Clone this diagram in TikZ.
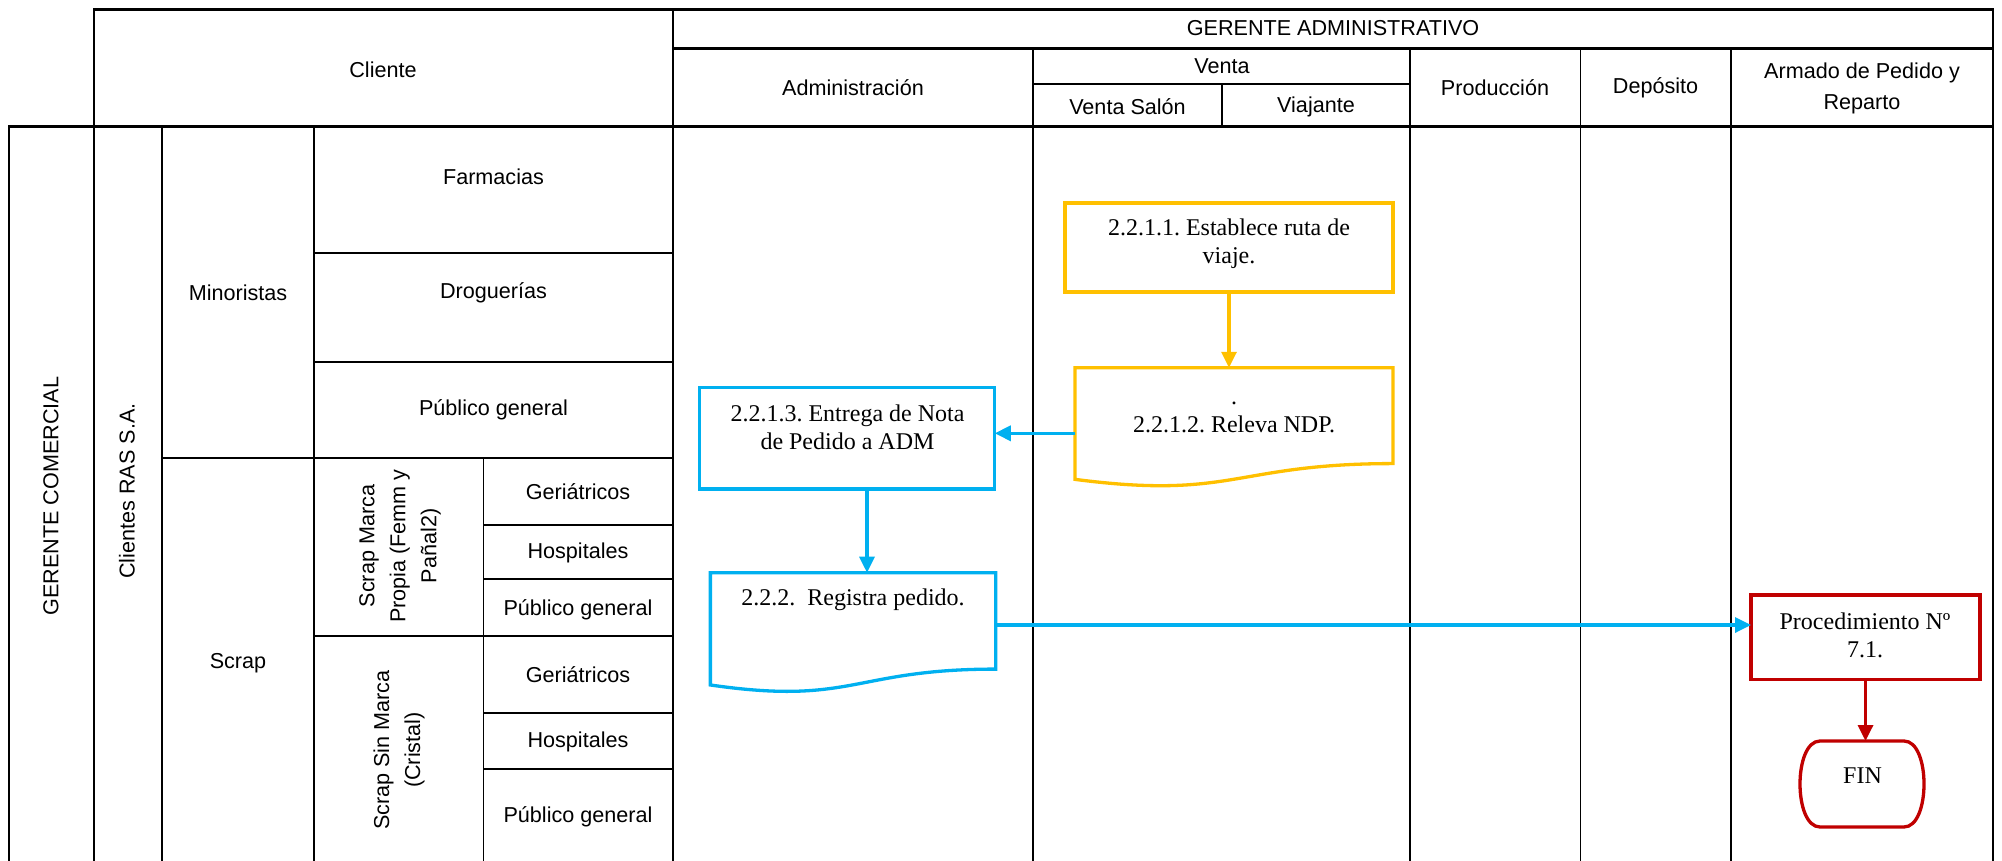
\documentclass[tikz,border=0pt]{standalone}
\usepackage{fontspec}
\setmainfont{Liberation Serif}
\setsansfont{Liberation Sans}
\usetikzlibrary{arrows.meta,calc}
\definecolor{ycol}{HTML}{FFC000}
\definecolor{bcol}{HTML}{00B0F0}
\definecolor{rcol}{HTML}{C00000}
\frenchspacing
\begin{document}
\begin{tikzpicture}[x=1pt,y=-1pt,
  thickln/.style={line width=2.7pt,line cap=rect},
  medln/.style={line width=2.1pt,line cap=rect},
  thinln/.style={line width=1.8pt,line cap=rect},
  lab/.style={font=\sffamily\fontsize{21.6}{31}\selectfont,align=center,inner sep=0pt},
  rlab/.style={lab,rotate=90},
  ftxt/.style={font=\rmfamily\fontsize{24}{28}\selectfont,align=center,inner sep=0pt},
  shp/.style={inner sep=0pt,outer sep=0pt,draw=none},
  rbox/.style={shp,draw,line width=3.3pt},
  flow/.style={line width=3.3pt,-{Triangle[length=16pt,width=15pt]}},
  outl/.style={line width=3.3pt,line join=miter}
]
\useasboundingbox (0,0) rectangle (2002,861);
\fill[white] (0,0) rectangle (2002,861);

% ---- grid ----
\draw[thickln] (94,9.3) -- (1993,9.3);
\draw[thickln] (673,48.3) -- (1993,48.3);
\draw[thickln] (9,126.7) -- (1993,126.7);
\draw[thickln] (9,126.7) -- (9,861);
\draw[thickln] (94,9.3) -- (94,861);
\draw[thickln] (162,126.7) -- (162,861);
\draw[thickln] (673,9.3) -- (673,861);
\draw[thickln] (1993,9.3) -- (1993,861);

\draw[thinln] (314,126.7) -- (314,861);
\draw[thinln] (483.5,458) -- (483.5,861);
\draw[thinln] (1033,48.3) -- (1033,861);
\draw[thinln] (1222,84) -- (1222,126.7);
\draw[thinln] (1410,48.3) -- (1410,861);
\draw[thinln] (1580.4,48.3) -- (1580.4,861);
\draw[thinln] (1730.8,48.3) -- (1730.8,861);
\draw[thinln] (1033,84) -- (1410,84);

\draw[thinln] (314,252.7) -- (673,252.7);
\draw[thinln] (314,361.7) -- (673,361.7);
\draw[medln] (162,458) -- (673,458);
\draw[thinln] (483.5,525) -- (673,525);
\draw[thinln] (483.5,579.3) -- (673,579.3);
\draw[medln] (314,636) -- (673,636);
\draw[thinln] (483.5,712.7) -- (673,712.7);
\draw[thinln] (483.5,769) -- (673,769);

% ---- headers / lane labels ----
\node[lab] (hcli) at (383,70) {Cliente};
\node[lab] (hga) at (1333,28.5) {GERENTE ADMINISTRATIVO};
\node[lab] (hadm) at (853,88) {Administración};
\node[lab] (hven) at (1222,66.5) {Venta};
\node[lab] (hvs) at (1127.5,106.5) {Venta Salón};
\node[lab] (hvj) at (1316,106.5) {Viajante};
\node[lab] (hpro) at (1495,88) {Producción};
\node[lab] (hdep) at (1655.6,88) {Depósito};
\node[lab] (harm) at (1862,88) {Armado de Pedido y\\Reparto};
\node[rlab] (gc) at (51,496) {GERENTE COMERCIAL};
\node[rlab] (cras) at (127,491) {Clientes RAS S.A.};
\node[lab] (min) at (238,293) {Minoristas};
\node[lab] (far) at (493.5,177) {Farmacias};
\node[lab] (dro) at (493.5,293) {Droguerías};
\node[lab] (pg1) at (493.5,410) {Público general};
\node[lab] (scr) at (238,663) {Scrap};
\node[rlab] (smp) at (400,546) {Scrap Marca\\Propia (Femm y\\Pañal2)};
\node[lab] (ger1) at (578,491.5) {Geriátricos};
\node[lab] (hos1) at (578,553) {Hospitales};
\node[lab] (pg2) at (578,610) {Público general};
\node[rlab] (ssm) at (399,750) {Scrap Sin Marca\\(Cristal)};
\node[lab] (ger2) at (578,675) {Geriátricos};
\node[lab] (hos2) at (578,742) {Hospitales};
\node[lab] (pg3) at (578,817) {Público general};

% ---- flow shapes ----
\node[rbox,draw=ycol,minimum width=328pt,minimum height=89pt] (s1) at (1229,247.5) {};
\node[shp,minimum width=318pt,minimum height=119.5pt] (d1) at (1234,427.5) {};
\draw[outl,ycol] (d1.north west) -- (d1.north east)
  -- ($(d1.north east)!0.802!(d1.south east)$)
  .. controls ($(d1.north)!0.802!(d1.south)$) and ($(d1.north)!1.107!(d1.south)$)
  .. ($(d1.north west)!0.934!(d1.south west)$) -- cycle;
\node[rbox,draw=bcol,minimum width=295.5pt,minimum height=101.7pt] (s3) at (847,438.2) {};
\node[shp,minimum width=285.3pt,minimum height=120.2pt] (d2) at (853,632.8) {};
\draw[outl,bcol] (d2.north west) -- (d2.north east)
  -- ($(d2.north east)!0.802!(d2.south east)$)
  .. controls ($(d2.north)!0.802!(d2.south)$) and ($(d2.north)!1.107!(d2.south)$)
  .. ($(d2.north west)!0.934!(d2.south west)$) -- cycle;
\node[rbox,draw=rcol,minimum width=229pt,minimum height=84.3pt] (p) at (1865.5,637.2) {};
\node[shp,minimum width=124pt,minimum height=86pt] (fin) at (1862,784) {};
\draw[outl,rcol] ([xshift=20pt]fin.north west) -- ([xshift=-20pt]fin.north east)
  .. controls ([xshift=6.67pt]fin.north east) and ([xshift=6.67pt]fin.south east)
  .. ([xshift=-20pt]fin.south east) -- ([xshift=20pt]fin.south west)
  .. controls ([xshift=-6.67pt]fin.south west) and ([xshift=-6.67pt]fin.north west)
  .. cycle;

% ---- texts ----
\node[ftxt] (t1) at (1229,244) {2.2.1.1. Establece ruta de\\viaje.};
\node[ftxt] (t2) at (1234,409) {\strut.\\2.2.1.2. Releva NDP.};
\node[ftxt] (t3) at (847.5,427.5) {2.2.1.3. Entrega de Nota\\de Pedido a ADM};
\node[ftxt] (t4) at (853,600) {2.2.2.\ \ Registra pedido.};
\node[ftxt] (t5) at (1865,635.5) {Procedimiento Nº\\7.1.};
\node[ftxt] (t6) at (1862.5,776) {FIN};

% ---- connectors ----
\draw[flow,ycol] (s1.south) -- (s1.south |- d1.north);
\draw[flow,bcol] ([yshift=-5.8pt]d1.west) coordinate (a1) -- (a1 -| s3.east);
\draw[flow,bcol] ([xshift=20pt]s3.south) coordinate (a2) -- (a2 |- d2.north);
\draw[flow,bcol] ([yshift=7.8pt]d2.east) coordinate (a3) -- (a3 -| p.west);
\draw[flow,rcol] (p.south) -- (p.south |- fin.north);
\end{tikzpicture}
\end{document}
